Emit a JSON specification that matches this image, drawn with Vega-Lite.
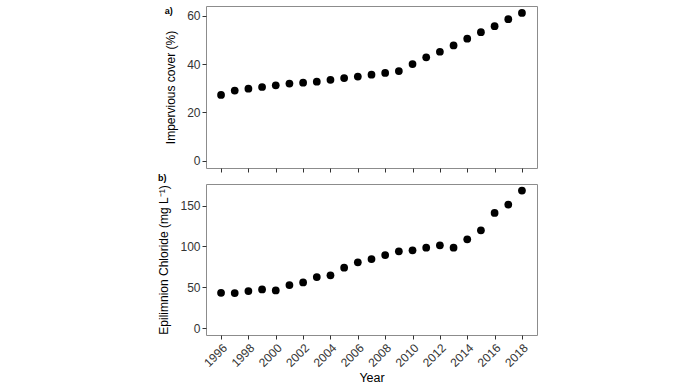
{
  "$schema": "https://vega.github.io/schema/vega-lite/v6.json",
  "background": "white",
  "padding": {"left": 157, "top": 5, "right": 5, "bottom": 0},
  "data": {"values": [
    {"year": 1996, "imp": 27.2, "cl": 43.3},
    {"year": 1997, "imp": 29.0, "cl": 42.9},
    {"year": 1998, "imp": 29.8, "cl": 45.4},
    {"year": 1999, "imp": 30.5, "cl": 47.4},
    {"year": 2000, "imp": 31.2, "cl": 46.2},
    {"year": 2001, "imp": 31.9, "cl": 52.7},
    {"year": 2002, "imp": 32.3, "cl": 56.0},
    {"year": 2003, "imp": 32.7, "cl": 62.5},
    {"year": 2004, "imp": 33.5, "cl": 64.6},
    {"year": 2005, "imp": 34.2, "cl": 74.0},
    {"year": 2006, "imp": 34.8, "cl": 80.5},
    {"year": 2007, "imp": 35.6, "cl": 84.6},
    {"year": 2008, "imp": 36.3, "cl": 89.5},
    {"year": 2009, "imp": 37.1, "cl": 94.0},
    {"year": 2010, "imp": 40.0, "cl": 95.2},
    {"year": 2011, "imp": 42.8, "cl": 98.5},
    {"year": 2012, "imp": 45.1, "cl": 101.3},
    {"year": 2013, "imp": 47.7, "cl": 98.5},
    {"year": 2014, "imp": 50.5, "cl": 108.7},
    {"year": 2015, "imp": 53.2, "cl": 119.7},
    {"year": 2016, "imp": 55.7, "cl": 141.0},
    {"year": 2017, "imp": 58.6, "cl": 151.2},
    {"year": 2018, "imp": 61.2, "cl": 168.4}
  ]},
  "config": {
    "font": "Liberation Sans",
    "view": {"stroke": "#8c8c8c", "strokeWidth": 1},
    "axis": {
      "grid": false,
      "domain": false,
      "tickColor": "#333333",
      "tickSize": 4,
      "labelFont": "Liberation Sans",
      "labelFontSize": 12,
      "labelColor": "#333333",
      "labelOverlap": false,
      "titleFont": "Liberation Sans",
      "titleFontSize": 12,
      "titleFontWeight": "normal",
      "titleColor": "#000000",
      "labelPadding": 2
    },
    "title": {"font": "Liberation Sans", "fontSize": 9, "fontWeight": "bold", "anchor": "start", "frame": "bounds", "color": "#000000"},
    "concat": {"spacing": 0}
  },
  "vconcat": [
    {
      "title": {"text": "a)", "offset": -10},
      "width": 331,
      "height": 162,
      "mark": {"type": "circle", "size": 60, "opacity": 1, "color": "#000000"},
      "encoding": {
        "x": {"field": "year", "type": "quantitative",
              "scale": {"domain": [1994.9, 2019.1], "nice": false, "zero": false},
              "axis": {"values": [1996, 1998, 2000, 2002, 2004, 2006, 2008, 2010, 2012, 2014, 2016, 2018], "labels": false, "title": null}},
        "y": {"field": "imp", "type": "quantitative",
              "scale": {"domain": [-3.05, 64.05], "nice": false, "zero": false},
              "axis": {"values": [0, 20, 40, 60], "title": "Impervious cover (%)", "titlePadding": 9}}
      }
    },
    {
      "title": {"text": "b)", "offset": 1},
      "width": 331,
      "height": 151,
      "mark": {"type": "circle", "size": 60, "opacity": 1, "color": "#000000"},
      "encoding": {
        "x": {"field": "year", "type": "quantitative",
              "scale": {"domain": [1994.9, 2019.1], "nice": false, "zero": false},
              "axis": {"values": [1996, 1998, 2000, 2002, 2004, 2006, 2008, 2010, 2012, 2014, 2016, 2018], "format": "d", "labelAngle": -45, "labelAlign": "right", "labelBaseline": "top", "labelPadding": 3, "title": "Year", "titleFontSize": 12.5, "titlePadding": 3}},
        "y": {"field": "cl", "type": "quantitative",
              "scale": {"domain": [-8.4, 176.4], "nice": false, "zero": false},
              "axis": {"values": [0, 50, 100, 150], "title": "Epilimnion Chloride (mg L⁻¹)", "titlePadding": 9}}
      }
    }
  ]
}
